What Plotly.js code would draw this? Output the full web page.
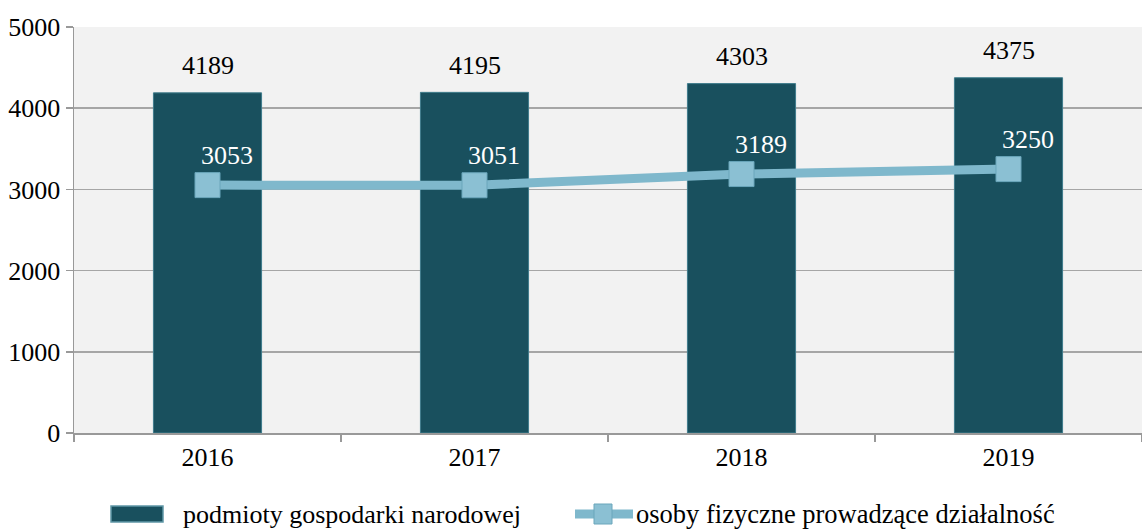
<!DOCTYPE html>
<html><head><meta charset="utf-8">
<script src="https://cdn.plot.ly/plotly-3.0.1.min.js"></script>
<style>body{margin:0;background:#fff}#chart{width:1142px;height:529px}</style>
</head><body><div id="chart"></div>
<script>
const years = ['2016','2017','2018','2019'];
const podmioty = [4189, 4195, 4303, 4375];
const osoby = [3053, 3051, 3189, 3250];
const yTicks = [0,1000,2000,3000,4000,5000];
const seriesNames = ['podmioty gospodarki narodowej', 'osoby fizyczne prowadzące działalność'];

const font = '"Liberation Serif", "Times New Roman", serif';
const barColor = '#19505e', lineColor = '#7fb8cc', markerColor = '#8bc0d3';
const annotations = [];
years.forEach((y,i)=>{
  annotations.push({x:i, y:podmioty[i], text:String(podmioty[i]), showarrow:false, yanchor:'middle', yshift:27, font:{family:font,size:26,color:'#000'}});
  annotations.push({x:i, y:osoby[i], text:String(osoby[i]), showarrow:false, yanchor:'middle', yshift:30, xshift:19, font:{family:font,size:26,color:'#fff'}});
});
// custom legend (paper coordinates)
const px = v => (v-74)/1068, py = v => (433-v)/406;
annotations.push({xref:'paper', yref:'paper', x:px(181), y:py(514), xanchor:'left', yanchor:'middle', showarrow:false, text:seriesNames[0], font:{family:font,size:26,color:'#000'}});
annotations.push({xref:'paper', yref:'paper', x:px(634), y:py(514), xanchor:'left', yanchor:'middle', showarrow:false, text:seriesNames[1], font:{family:font,size:26.5,color:'#000'}});
const shapes = [
  {type:'rect', xref:'paper', yref:'paper', x0:px(111), x1:px(163), y0:py(522), y1:py(506), fillcolor:barColor, line:{color:'#5f97a6', width:1.5}},
  {type:'line', xref:'paper', yref:'paper', x0:px(575), x1:px(633), y0:py(514), y1:py(514), line:{color:lineColor, width:9}},
  {type:'rect', xref:'paper', yref:'paper', x0:px(594), x1:px(612), y0:py(524), y1:py(504), fillcolor:markerColor, line:{color:'#6aa6bb', width:1}}
];

const data = [
  {type:'bar', x:years, y:podmioty, name:seriesNames[0], width:0.405,
   marker:{color:barColor, line:{color:'#3f7c8c', width:1}}},
  {type:'scatter', mode:'lines+markers', x:years, y:osoby, name:seriesNames[1],
   line:{color:lineColor, width:9}, marker:{symbol:'square', size:25, color:markerColor, line:{color:'#6aa6bb', width:1}}}
];
const layout = {
  width:1142, height:529,
  margin:{l:74, r:0, t:27, b:96},
  paper_bgcolor:'#fff', plot_bgcolor:'#f2f2f2',
  font:{family:font, size:26, color:'#000'},
  xaxis:{type:'category', range:[-0.5,3.5], tickson:'boundaries', ticks:'outside', ticklen:7, tickcolor:'#999', tickwidth:1.5,
         showline:true, linecolor:'#999', linewidth:1.5, showgrid:false, tickfont:{family:font,size:26}, tickangle:0},
  yaxis:{range:[0,5000], tickvals:yTicks, ticks:'outside', ticklen:7, tickcolor:'#999', tickwidth:1.5,
         showline:true, linecolor:'#999', linewidth:1.5, gridcolor:'#a6a6a6', gridwidth:1.5, zeroline:false,
         tickfont:{family:font,size:26}},
  annotations:annotations,
  shapes:shapes,
  showlegend:false
};
Plotly.newPlot('chart', data, layout, {displayModeBar:false, staticPlot:true});
</script></body></html>
